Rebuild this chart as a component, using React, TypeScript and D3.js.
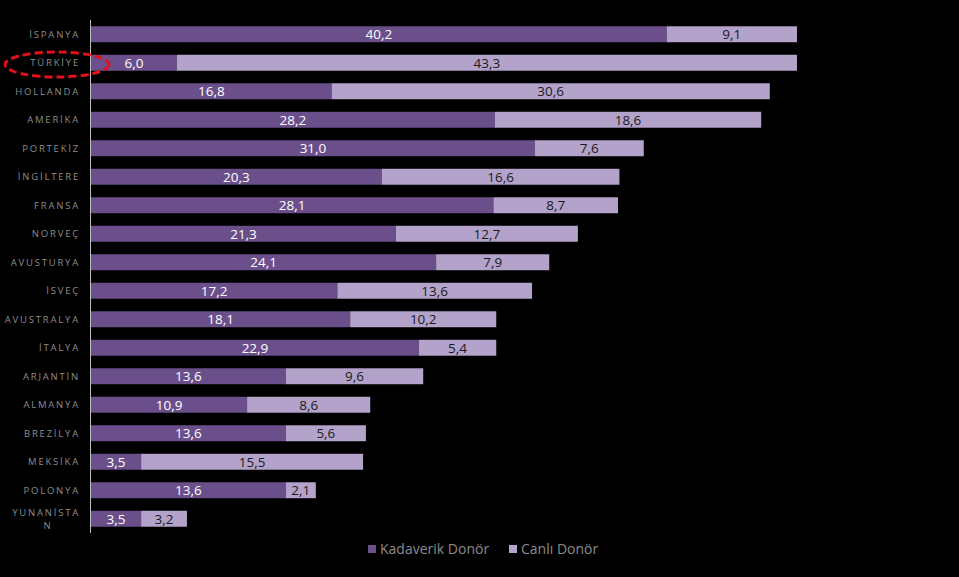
import React from "react";
import * as d3 from "d3";

const countries = ["İSPANYA","TÜRKİYE","HOLLANDA","AMERİKA","PORTEKİZ","İNGİLTERE","FRANSA","NORVEÇ","AVUSTURYA","İSVEÇ","AVUSTRALYA","İTALYA","ARJANTİN","ALMANYA","BREZİLYA","MEKSİKA","POLONYA","YUNANİSTAN"];
const kadaverik = [40.2,6.0,16.8,28.2,31.0,20.3,28.1,21.3,24.1,17.2,18.1,22.9,13.6,10.9,13.6,3.5,13.6,3.5];
const canli = [9.1,43.3,30.6,18.6,7.6,16.6,8.7,12.7,7.9,13.6,10.2,5.4,9.6,8.6,5.6,15.5,2.1,3.2];
const seriesNames = ["Kadaverik Donör","Canlı Donör"];

const W = 959, H = 577;
const DARK = "#6a4f8b";
const LIGHT = "#b3a3cb";
const fmt = (v: number) => v.toFixed(1).replace(".", ",");

export default function App() {
  const x = d3.scaleLinear().domain([0, 50]).range([91, 91 + 716]);
  const y = d3.scaleBand<string>().domain(countries).range([20, 533]).paddingInner(0.44).paddingOuter(0.22);
  const bh = y.bandwidth();
  const labelFont = "'Open Sans', 'DejaVu Sans', sans-serif";
  return (
    <svg width={W} height={H} style={{ position: "absolute", left: 0, top: 0, background: "#000" }}>
      <rect x={0} y={0} width={W} height={H} fill="#000" />
      {countries.map((c, i) => {
        const y0 = y(c)!;
        const xa = x(0), xb = x(kadaverik[i]), xc = x(kadaverik[i] + canli[i]);
        const cy = y0 + bh / 2;
        const isLast = c === "YUNANİSTAN";
        return (
          <g key={c}>
            <rect x={xa} y={y0} width={xb - xa} height={bh} fill={DARK} />
            <rect x={xb} y={y0} width={xc - xb} height={bh} fill={LIGHT} />
            <text x={(xa + xb) / 2} y={cy} dy="0.36em" textAnchor="middle" fill="#fff" fontSize={13.5} fontFamily={labelFont}>{fmt(kadaverik[i])}</text>
            <text x={(xb + xc) / 2} y={cy} dy="0.36em" textAnchor="middle" fill="#1a1a1a" fontSize={13.5} fontFamily={labelFont}>{fmt(canli[i])}</text>
            {isLast ? (
              <text x={80} y={cy - 6} textAnchor="end" fill="#8c8c8c" fontSize={9.5} letterSpacing={1.8} fontFamily={labelFont}>
                <tspan x={80} dy="0.36em">YUNANİSTA</tspan>
                <tspan x={48} dy="1.3em" textAnchor="middle">N</tspan>
              </text>
            ) : (
              <text x={80} y={cy} dy="0.36em" textAnchor="end" fill="#8c8c8c" fontSize={9.5} letterSpacing={1.8} fontFamily={labelFont}>{c}</text>
            )}
          </g>
        );
      })}
      <line x1={90.5} x2={90.5} y1={20} y2={533} stroke="#bfbfbf" strokeWidth={1} />
      <ellipse cx={57} cy={64.5} rx={52} ry={12.5} fill="none" stroke="#e3101b" strokeWidth={3} strokeDasharray="8 4" />
      {seriesNames.map((s, i) => {
        const lx = i === 0 ? 368 : 509;
        return (
          <g key={s}>
            <rect x={lx} y={545} width={8} height={8} fill={i === 0 ? DARK : LIGHT} />
            <text x={lx + 12} y={549} dy="0.36em" fill="#8c8c8c" fontSize={14} fontFamily={labelFont}>{s}</text>
          </g>
        );
      })}
    </svg>
  );
}
